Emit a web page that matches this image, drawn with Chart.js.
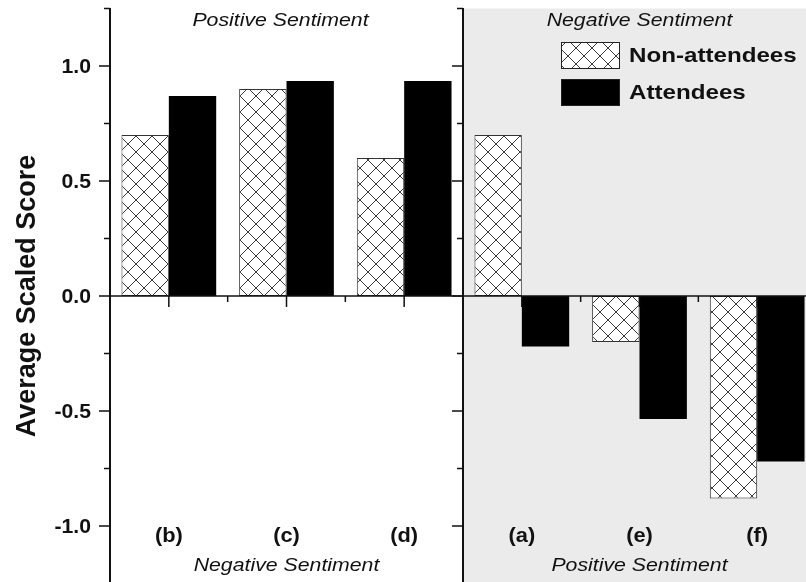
<!DOCTYPE html>
<html>
<head>
<meta charset="utf-8">
<script src="https://cdn.jsdelivr.net/npm/chart.js@4/dist/chart.umd.min.js"></script>
<style>
  html, body { margin: 0; padding: 0; background: #fff; overflow: hidden; }
  #wrap { width: 806px; height: 582px; overflow: hidden; position: relative; }
  canvas { display: block; }
</style>
</head>
<body>
<div id="wrap"><canvas id="chart" width="820" height="600"></canvas></div>
<script>
// Categories, grouped into two panels of three
const categories = ['(b)', '(c)', '(d)', '(a)', '(e)', '(f)'];
// Average scaled scores per group
const nonAttendees = [0.70, 0.90, 0.60, 0.70, -0.20, -0.88];
const attendees    = [0.87, 0.935, 0.935, -0.22, -0.535, -0.72];
// Y axis ticks
const yMajorTicks = [-1.0, -0.5, 0.0, 0.5, 1.0];
const yMinorTicks = [-1.25, -0.75, -0.25, 0.25, 0.75, 1.25];
const yTickLabels = ['-1.0', '-0.5', '0.0', '0.5', '1.0'];
const yAxisTitle = 'Average Scaled Score';
const seriesNames = ['Non-attendees', 'Attendees'];
// Panel captions: upper and lower, for left and right panels
const panelTopLabels = ['Positive Sentiment', 'Negative Sentiment'];
const panelBottomLabels = ['Negative Sentiment', 'Positive Sentiment'];

const FONT = '"Liberation Sans", Arial, sans-serif';
const INK = '#111';

// Cross-hatch fill for the non-attendee bars
function makeHatch() {
  const s = 16;
  const c = document.createElement('canvas');
  c.width = s; c.height = s;
  const g = c.getContext('2d');
  g.fillStyle = '#fff';
  g.fillRect(0, 0, s, s);
  g.strokeStyle = '#3a3a3a';
  g.lineWidth = 1;
  g.beginPath();
  g.moveTo(-2, -2); g.lineTo(s + 2, s + 2);
  g.moveTo(s + 2, -2); g.lineTo(-2, s + 2);
  g.stroke();
  return g.createPattern(c, 'repeat');
}
const hatch = makeHatch();

function text(ctx, str, x, y, font, align, sx, rot) {
  ctx.save();
  ctx.translate(x, y);
  if (rot) ctx.rotate(rot);
  ctx.scale(sx || 1, 1);
  ctx.font = font;
  ctx.textAlign = align || 'center';
  ctx.textBaseline = 'middle';
  ctx.fillStyle = INK;
  ctx.fillText(str, 0, 0);
  ctx.restore();
}

const panelPlugin = {
  id: 'panels',
  beforeDatasetsDraw(chart) {
    const { ctx, chartArea: a, scales: { x } } = chart;
    const div = (x.getPixelForValue(2) + x.getPixelForValue(3)) / 2;
    ctx.save();
    ctx.fillStyle = '#ebebeb';
    ctx.fillRect(div, a.top, a.right - div, a.bottom - a.top);
    ctx.restore();
  },
  afterDatasetsDraw(chart) {
    const { ctx, chartArea: a, scales: { x, y } } = chart;
    const div = (x.getPixelForValue(2) + x.getPixelForValue(3)) / 2;
    const y0 = y.getPixelForValue(0);
    ctx.save();
    ctx.strokeStyle = INK;
    ctx.lineCap = 'butt';

    // zero line with category ticks
    ctx.lineWidth = 1.5;
    ctx.beginPath();
    ctx.moveTo(a.left, y0); ctx.lineTo(a.right, y0);
    ctx.stroke();
    ctx.beginPath();
    categories.forEach((c, i) => {
      const px = x.getPixelForValue(i);
      ctx.moveTo(px, y0); ctx.lineTo(px, y0 + 11);
      if (i < categories.length - 1 && i !== 2) {
        const mx = (px + x.getPixelForValue(i + 1)) / 2;
        ctx.moveTo(mx, y0); ctx.lineTo(mx, y0 + 6);
      }
    });
    ctx.stroke();

    // vertical axes: left edge and panel divider
    [a.left, div].forEach(ax => {
      ctx.lineWidth = 2;
      ctx.beginPath();
      ctx.moveTo(ax, a.top - 0.5); ctx.lineTo(ax, a.bottom);
      ctx.stroke();
      ctx.lineWidth = 1.5;
      ctx.beginPath();
      yMajorTicks.forEach(v => {
        const py = y.getPixelForValue(v);
        ctx.moveTo(ax, py); ctx.lineTo(ax - 11, py);
      });
      yMinorTicks.forEach(v => {
        const py = y.getPixelForValue(v);
        ctx.moveTo(ax, py); ctx.lineTo(ax - 6, py);
      });
      ctx.stroke();
    });
    ctx.restore();

    // tick labels and axis title
    yMajorTicks.forEach((v, i) => {
      text(ctx, yTickLabels[i], a.left - 19, y.getPixelForValue(v) + 1,
        'bold 20px ' + FONT, 'right', 1.06);
    });
    text(ctx, yAxisTitle, 28, (a.top + a.bottom) / 2, 'bold 27px ' + FONT, 'center', 1.0, -Math.PI / 2);

    // category labels near the bottom
    categories.forEach((c, i) => {
      text(ctx, c, x.getPixelForValue(i), y.getPixelForValue(-1.045),
        'bold 19.5px ' + FONT, 'center', 1.12);
    });

    // panel captions
    const centers = [(a.left + div) / 2, (div + a.right) / 2];
    centers.forEach((cx, i) => {
      text(ctx, panelTopLabels[i], cx - (i === 0 ? 6 : 0), 21, 'italic 18.5px ' + FONT, 'center', 1.15);
      text(ctx, panelBottomLabels[i], cx, 566, 'italic 18.5px ' + FONT, 'center', 1.15);
    });

    // legend
    const lx = 561, lw = 59, lh = 27;
    const rows = [42, 79];
    chart.data.datasets.forEach((ds, i) => {
      ctx.save();
      ctx.fillStyle = ds.backgroundColor;
      ctx.fillRect(lx, rows[i], lw, lh);
      ctx.strokeStyle = '#222';
      ctx.lineWidth = 1;
      ctx.strokeRect(lx + 0.5, rows[i] + 0.5, lw - 1, lh - 1);
      ctx.restore();
      text(ctx, ds.label, lx + 68, rows[i] + lh / 2 + 1, 'bold 21px ' + FONT, 'left', 1.15);
    });
  }
};

new Chart(document.getElementById('chart'), {
  type: 'bar',
  data: {
    labels: categories,
    datasets: [
      { label: seriesNames[0], data: nonAttendees, backgroundColor: hatch,
        borderColor: '#333', borderWidth: 1, borderSkipped: false },
      { label: seriesNames[1], data: attendees, backgroundColor: '#000',
        borderColor: '#000', borderWidth: 0 }
    ]
  },
  options: {
    responsive: false,
    animation: false,
    devicePixelRatio: 1,
    layout: { padding: { left: 110, top: 8.5, right: 4, bottom: 16.5 } },
    datasets: { bar: { categoryPercentage: 0.805, barPercentage: 1.0 } },
    scales: {
      x: { type: 'category', display: false, offset: true },
      y: { type: 'linear', display: false, min: -1.25, max: 1.25 }
    },
    plugins: { legend: { display: false }, tooltip: { enabled: false } }
  },
  plugins: [panelPlugin]
});
</script>
</body>
</html>
